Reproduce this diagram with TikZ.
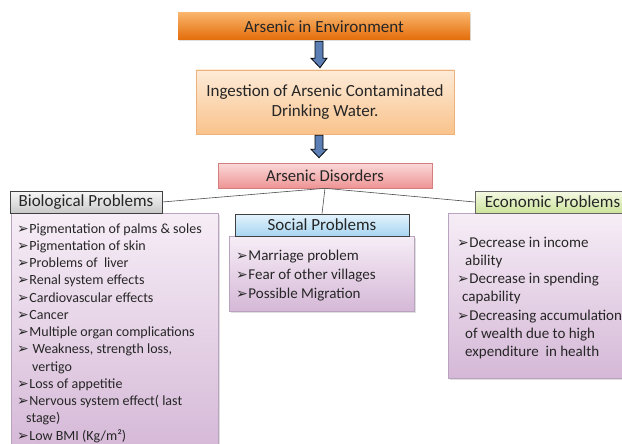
\documentclass[tikz,border=0pt]{standalone}
\usepackage{fontspec}
\setmainfont{Carlito}
\newfontfamily\dvfont{DejaVu Sans}
\usetikzlibrary{shadows,calc}
\definecolor{orT}{HTML}{F9B46A}
\definecolor{orB}{HTML}{E36C09}
\definecolor{peT}{HTML}{FDEBD8}
\definecolor{peB}{HTML}{F9C38C}
\definecolor{peD}{HTML}{EDB27A}
\definecolor{pkT}{HTML}{FBD9D9}
\definecolor{pkB}{HTML}{EE9494}
\definecolor{pkD}{HTML}{D47F7F}
\definecolor{gyT}{HTML}{F7F7F7}
\definecolor{gyB}{HTML}{C9C9C9}
\definecolor{blT}{HTML}{E4F3FC}
\definecolor{blB}{HTML}{A7D5F1}
\definecolor{grT}{HTML}{F4F9E4}
\definecolor{grB}{HTML}{CCE39B}
\definecolor{vlT}{HTML}{F6EDF6}
\definecolor{vlB}{HTML}{D5B8D7}
\definecolor{vlD}{HTML}{B9A3BF}
\definecolor{arF}{HTML}{5B7FB5}
\definecolor{txt}{HTML}{262626}
\newcommand\bul{{\dvfont\fontsize{14}{14}\selectfont ➢}\kern0.5pt}
\newcommand\st{\rule{0pt}{12pt}}
\begin{document}
\begin{tikzpicture}[x=1pt,y=-1pt,
  every node/.style={text=txt},
  shd/.style={drop shadow={shadow xshift=1.2pt,shadow yshift=-1.2pt,opacity=0.25}},
  box/.style={rectangle, inner sep=2pt, font=\fontsize{17}{20}\selectfont, shd},
  hdr/.style={box, draw=black!75, line width=0.6pt},
  content/.style={rectangle, anchor=north west, draw=vlD, top color=vlT, bottom color=vlB, line width=0.6pt, shd},
  list/.style={anchor=north west, align=left, inner sep=0pt},
  link/.style={draw=black!70, line width=0.6pt},
  barrow/.style={draw=black, line width=0.8pt, fill=arF}
]
\useasboundingbox (0,0) rectangle (622,444);
\fill[white] (0,0) rectangle (622,444);

% top chain
\node[box, top color=orT, bottom color=orB, minimum width=292, minimum height=27] (env) at (324,26.5) {Arsenic in Environment};
\node[box, draw=peD, line width=0.6pt, top color=peT, bottom color=peB, minimum width=258, minimum height=64, align=center] (ing) at (325,102) {Ingestion of Arsenic Contaminated\\Drinking Water.};
\node[box, draw=pkD, line width=0.6pt, top color=pkT, bottom color=pkB, minimum width=214, minimum height=25, font=\fontsize{16.7}{20}\selectfont] (dis) at (325,175.5) {Arsenic Disorders};

% block arrows
\draw[barrow] ($(env.south)+(-9,1)$) -- ++(0,17) -- ++(-4,0) -- ($(ing.north)+(-5,-2)$) -- ($(env.south)+(3,18)$) -- ++(-4,0) -- ++(0,-17) -- cycle;
\draw[barrow] ($(ing.south)+(-10,1)$) -- ++(0,14) -- ++(-4,0) -- ($(dis.north)+(-6,-5)$) -- ($(ing.south)+(2,15)$) -- ++(-4,0) -- ++(0,-14) -- cycle;

% content boxes
\node[content, minimum width=207, minimum height=240] (biobox) at (11,213) {};
\node[content, minimum width=185, minimum height=75] (socbox) at (229,236) {};
\node[content, minimum width=180, minimum height=165] (ecobox) at (448,213) {};

% headers
\node[hdr, top color=gyT, bottom color=gyB, minimum width=152, minimum height=22] (bioh) at (86,202) {Biological Problems};
\node[hdr, top color=blT, bottom color=blB, minimum width=174, minimum height=22] (soch) at (322,225) {Social Problems};
\node[hdr, draw=black!60, top color=grT, bottom color=grB, minimum width=155, minimum height=22] (ecoh) at (552.5,202) {Economic Problems};

% connectors
\draw[link] (dis.south) -- (bioh.east);
\draw[link] (dis.south) -- (soch.north);
\draw[link] (dis.south) -- (ecoh.west);

% lists
\node[list, font=\fontsize{14}{17.25}\selectfont] (biolist) at (17,221) {%
\st\bul Pigmentation of palms \& soles\\
\bul Pigmentation of skin\\
\bul Problems of\ \ liver\\
\bul Renal system effects\\
\bul Cardiovascular effects\\
\bul Cancer\\
\bul Multiple organ complications\\
\bul\ Weakness, strength loss,\\
\hspace*{15pt}vertigo\\
\bul Loss of appetitie\\
\bul Nervous system effect( last\\
\hspace*{9pt}stage)\\
\bul Low BMI (Kg/m²)};

\node[list, font=\fontsize{15}{19}\selectfont] (soclist) at (236,248) {%
\st\bul Marriage problem\\
\bul Fear of other\ villages\\
\bul Possible Migration};

\node[list, font=\fontsize{15}{18.2}\selectfont] (ecolist) at (457,235) {%
\st\bul Decrease in income\\
\hspace*{8pt}ability\\
\bul Decrease in spending\\
\hspace*{5pt}capability\\
\bul Decreasing accumulation\\
\hspace*{8pt}of wealth due to high\\
\hspace*{8pt}expenditure\ \ in health};
\end{tikzpicture}
\end{document}
